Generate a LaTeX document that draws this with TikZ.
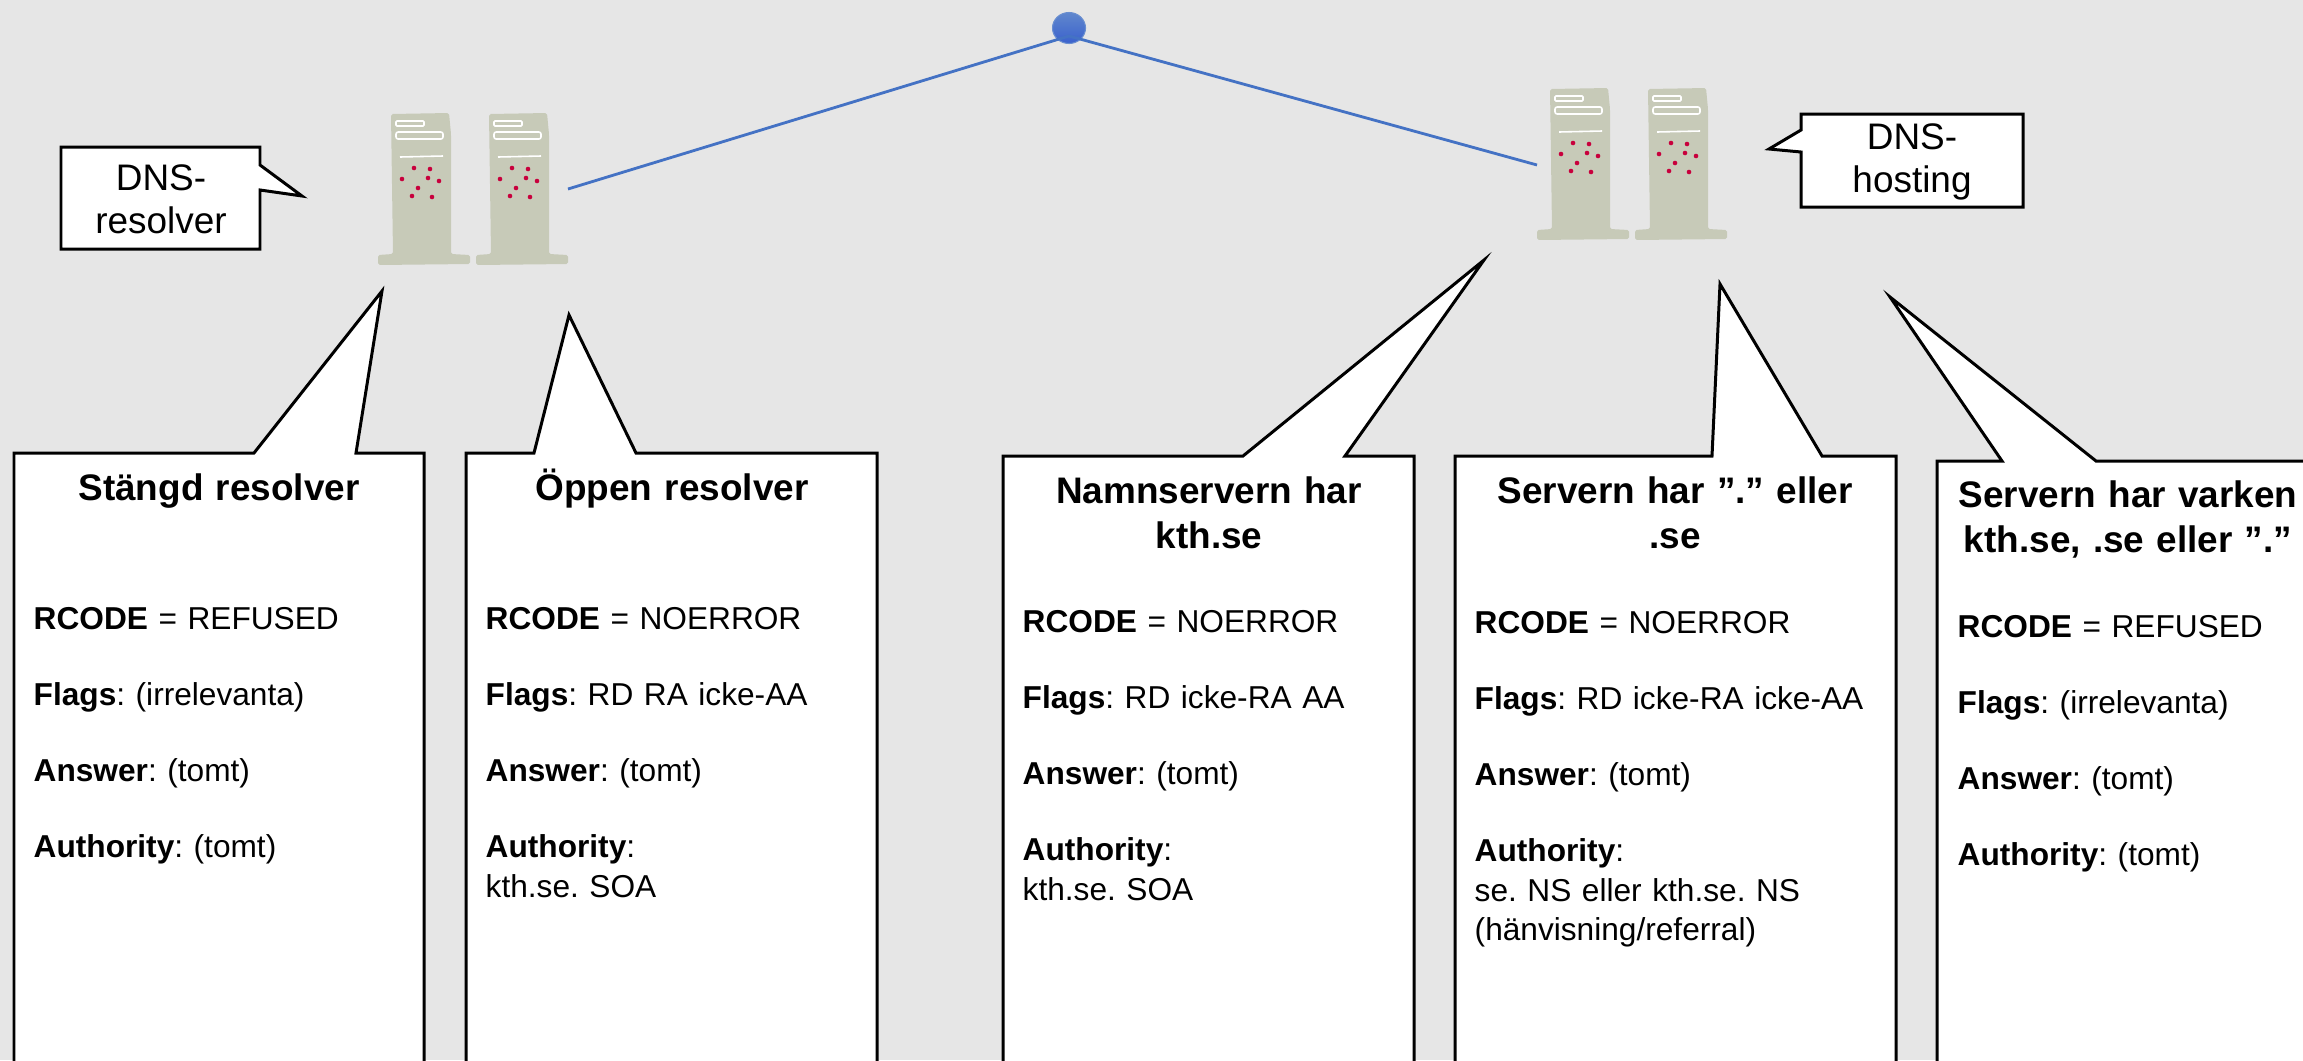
\documentclass[tikz,border=0pt]{standalone}
\usepackage{fontspec}
\setmainfont{Liberation Sans}
\usepackage{xcolor}
\usetikzlibrary{shapes,positioning,calc}
\definecolor{bgcol}{HTML}{E6E6E6}
\definecolor{towercol}{HTML}{C7CAB8}
\definecolor{dotcol}{HTML}{C8003C}
\definecolor{linkcol}{HTML}{4472C4}
\tikzset{
  callout/.style={draw=black, fill=white, line width=0.85pt, miter limit=10},
  bubbletext/.style={align=center, font=\fontsize{10.5}{12.3}\selectfont},
  titletext/.style={align=center, text width=4.4cm, inner sep=0pt, anchor=north, execute at begin node=\strut, font=\fontsize{10.5}{12.9}\selectfont\bfseries\frenchspacing},
  bodytext/.style={align=left, text width=4.1cm, inner sep=0pt, anchor=north west, font=\fontsize{9}{11.2}\selectfont\frenchspacing},
  link/.style={draw=linkcol, line width=0.8pt},
  tower/.pic={
    \fill[towercol, rounded corners=0.5pt] (0,0) -- (58,-1) -- (60,20) -- (60,140) -- (79,141) -- (79,150) -- (-13,151) -- (-13,141) -- (2,140) -- cycle;
    \draw[white, line width=0.45pt, rounded corners=0.3pt] (5,7) rectangle (33,12);
    \draw[white, line width=0.45pt, rounded corners=0.6pt] (5,18) rectangle (52,25);
    \draw[white, line width=0.45pt] (9,43) -- (52,42);
    \foreach \dx/\dy in {23/54,39/55,11/65,37/64,48/67,27/74,21/82,41/83}
      \fill[dotcol] (\dx,\dy) circle (2.3);
  }
}
\begin{document}
\begin{tikzpicture}[x=0.01cm, y=-0.01cm]
  \useasboundingbox (0,0) rectangle (2303,1060);
  \clip (0,0) rectangle (2303,1060);
  \fill[bgcol] (0,0) rectangle (2303,1060);
  % servers
  \pic at (391,114) {tower};
  \pic at (489,114) {tower};
  \pic at (1550,89) {tower};
  \pic at (1648,89) {tower};
  % network
  \coordinate (resolverend) at (568,189);
  \coordinate (hostingend) at (1537,165);
  \node[ellipse, top color=linkcol!85!white, bottom color=linkcol!85!blue, draw=linkcol!80!white, line width=0.3pt, minimum width=0.33cm, minimum height=0.31cm, inner sep=0pt] (net) at (1069,28) {};
  \coordinate (hub) at (1069,36);
  \draw[link] (hub) -- (resolverend);
  \draw[link] (hub) -- (hostingend);
  % small bubbles
  \draw[callout] (61,147) -- (260,147) -- (260,165) -- (302,196) -- (260,190) -- (260,249) -- (61,249) -- cycle;
  \node[bubbletext] (resolvername) at (161,199) {DNS-\\resolver};
  \draw[callout] (1801,114) -- (2023,114) -- (2023,207) -- (1801,207) -- (1801,152) -- (1769,149) -- (1801,130) -- cycle;
  \node[bubbletext] (hostingname) at (1912,162) {DNS-\\hosting};
  % answer boxes
  \draw[callout] (14,1070) -- (14,453) -- (254,453) -- (382,291) -- (356,453) -- (424,453) -- (424,1070);
  \draw[callout] (466,1070) -- (466,453) -- (534,453) -- (569,315) -- (636,453) -- (877,453) -- (877,1070);
  \draw[callout] (1003,1070) -- (1003,456) -- (1243,456) -- (1484,260) -- (1345,456) -- (1414,456) -- (1414,1070);
  \draw[callout] (1455,1070) -- (1455,456) -- (1712,456) -- (1720,284) -- (1822,456) -- (1896,456) -- (1896,1070);
  \draw[callout] (1937,1070) -- (1937,461) -- (2002,461) -- (1890,297) -- (2096,461) -- (2320,461) -- (2320,1070);
  % titles
  \node[titletext] (closedtitle) at (219,468) {Stängd resolver};
  \node[titletext] (opentitle) at (672,468) {Öppen resolver};
  \node[titletext] (havetitle) at (1209,471) {Namnservern har\\kth.se};
  \node[titletext] (parenttitle) at (1675,471) {Servern har ”.” eller\\.se};
  \node[titletext] (neithertitle) at (2128,475) {Servern har varken\\kth.se, .se eller ”.”};
  % answers
  \node[bodytext] (closedbody) at (33,607) {\textbf{RCODE} = REFUSED\\[10.4pt]\textbf{Flags}: (irrelevanta)\\[10.4pt]\textbf{Answer}: (tomt)\\[10.4pt]\textbf{Authority}: (tomt)};
  \node[bodytext] (openbody) at (485,607) {\textbf{RCODE} = NOERROR\\[10.4pt]\textbf{Flags}: RD RA icke-AA\\[10.4pt]\textbf{Answer}: (tomt)\\[10.4pt]\textbf{Authority}:\\kth.se. SOA};
  \node[bodytext] (havebody) at (1022,610) {\textbf{RCODE} = NOERROR\\[10.4pt]\textbf{Flags}: RD icke-RA AA\\[10.4pt]\textbf{Answer}: (tomt)\\[10.4pt]\textbf{Authority}:\\kth.se. SOA};
  \node[bodytext] (parentbody) at (1474,611) {\textbf{RCODE} = NOERROR\\[10.4pt]\textbf{Flags}: RD icke-RA icke-AA\\[10.4pt]\textbf{Answer}: (tomt)\\[10.4pt]\textbf{Authority}:\\se. NS eller kth.se. NS\\(hänvisning/referral)};
  \node[bodytext] (neitherbody) at (1957,615) {\textbf{RCODE} = REFUSED\\[10.4pt]\textbf{Flags}: (irrelevanta)\\[10.4pt]\textbf{Answer}: (tomt)\\[10.4pt]\textbf{Authority}: (tomt)};
\end{tikzpicture}
\end{document}
